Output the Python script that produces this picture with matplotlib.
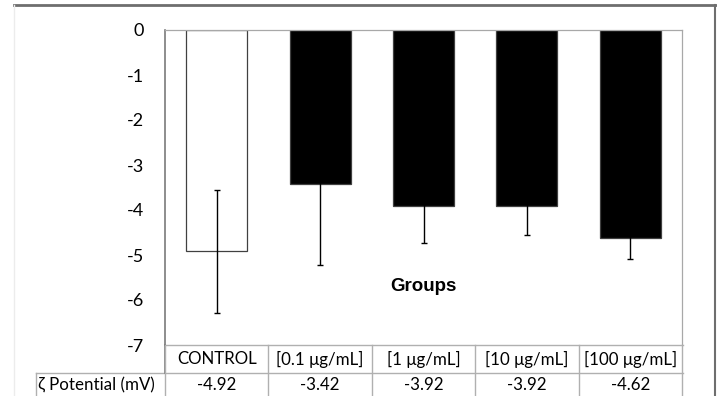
import numpy as np
import matplotlib
matplotlib.use("Agg")
from matplotlib import pyplot as plt
from matplotlib.lines import Line2D

plt.rcParams["font.family"] = ["Lato", "DejaVu Sans"]

groups = ["CONTROL", "[0.1 \u03bcg/mL]", "[1 \u03bcg/mL]", "[10 \u03bcg/mL]", "[100 \u03bcg/mL]"]
zeta = [-4.92, -3.42, -3.92, -3.92, -4.62]
err = [1.37, 1.80, 0.82, 0.64, 0.47]
face = ["white", "black", "black", "black", "black"]
row_label = "\u03b6 Potential (mV)"

W, H = 717, 396
fig = plt.figure(figsize=(W / 100, H / 100), dpi=100)

def fx(px):
    return px / W

def fy(py):
    return 1 - py / H

# plot area in pixel coords of the picture
L, R, T, B = 165, 682, 30, 345
ax = fig.add_axes([fx(L), fy(B), fx(R) - fx(L), fy(T) - fy(B)])

x = np.arange(len(groups))
ax.bar(x, zeta, width=0.59, color=face, edgecolor="#404040", linewidth=0.9, zorder=2)
ax.errorbar(x, zeta, yerr=err, fmt="none", ecolor="black", elinewidth=1.0,
            capsize=2.5, capthick=1.0, zorder=3)

ax.set_xlim(-0.5, len(groups) - 0.5)
ax.set_ylim(-7, 0)
ax.set_yticks(np.arange(-7, 1, 1))
ax.set_yticklabels([str(v) for v in range(-7, 1)], fontsize=13)
ax.tick_params(axis="y", length=0, pad=15)
ax.set_xticks([])

ax.spines["left"].set_color("#7a7a7a")
ax.spines["left"].set_linewidth(1.2)
for s in ["top", "right"]:
    ax.spines[s].set_color("#a8a8a8")
    ax.spines[s].set_linewidth(0.9)
ax.spines["bottom"].set_visible(False)

ax.text(2, -5.7, "Groups", ha="center", va="center", fontsize=13.5,
        fontweight="bold", family="Liberation Sans")

# data table below the plot
tc = "#b0b0b0"
r1, r2, r3 = 345, 373, 400
lab_left = 36
cell_w = (R - L) / len(groups)
fig.add_artist(Line2D([fx(L), fx(R + 1)], [fy(r1), fy(r1)], color=tc, lw=1.0))
fig.add_artist(Line2D([fx(lab_left), fx(R + 1)], [fy(r2), fy(r2)], color=tc, lw=1.0))
fig.add_artist(Line2D([fx(L), fx(L)], [fy(r1), fy(r2)], color="#7a7a7a", lw=1.2))
fig.add_artist(Line2D([fx(lab_left), fx(lab_left)], [fy(r2), fy(r3)], color=tc, lw=1.0))
for i in range(len(groups) + 1):
    xe = L + i * cell_w
    fig.add_artist(Line2D([fx(xe), fx(xe)], [fy(r1), fy(r3)], color=tc, lw=1.0))

for i, (g, v) in enumerate(zip(groups, zeta)):
    xc = L + (i + 0.5) * cell_w
    fig.text(fx(xc), fy((r1 + r2) / 2), g, ha="center", va="center", fontsize=12.2)
    fig.text(fx(xc), fy((r2 + r3) / 2 - 1), "%.2f" % v, ha="center", va="center", fontsize=12.2)
fig.text(fx(lab_left + 2), fy((r2 + r3) / 2 - 1), row_label, ha="left", va="center", fontsize=12.2)

# outer frame of the picture
fig.add_artist(Line2D([fx(14), 1], [fy(5), fy(5)], color="#6e6e6e", lw=2.0))
fig.add_artist(Line2D([fx(715), fx(715)], [fy(5), 0], color="#6e6e6e", lw=1.5))
fig.add_artist(Line2D([fx(14), fx(14)], [fy(5), 0], color="#ececec", lw=1.0))

fig.savefig("out.png", dpi=100)
